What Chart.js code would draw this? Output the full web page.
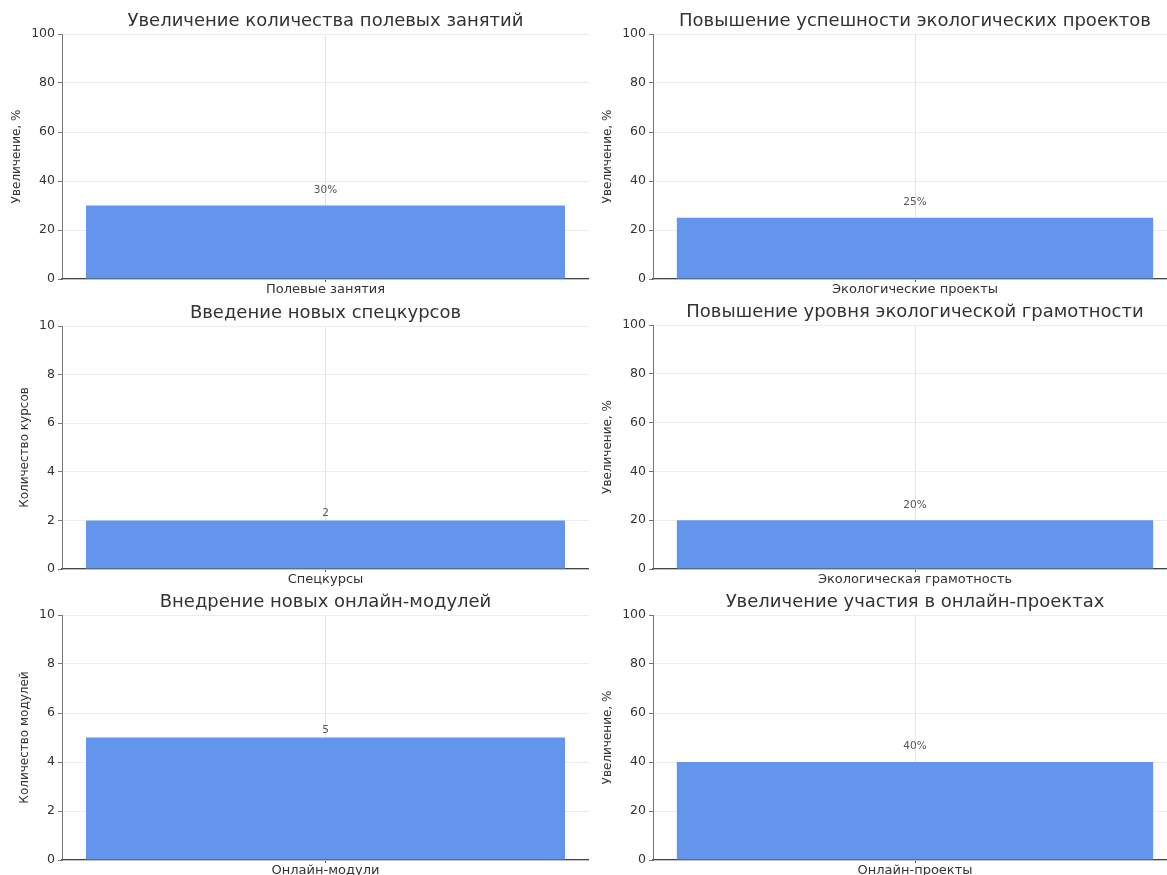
<!DOCTYPE html>
<html lang="ru">
<head>
<meta charset="utf-8">
<title>Результаты</title>
<script src="https://cdn.jsdelivr.net/npm/chart.js@4.4.1/dist/chart.umd.min.js"></script>
<style>
  html, body { margin: 0; padding: 0; background: #fff; overflow: hidden; }
  #board { position: relative; width: 1167px; height: 875px; overflow: hidden; }
  .panel { position: absolute; }
</style>
</head>
<body>
<div id="board"></div>
<script>
/* six single-bar panels, 3 rows x 2 cols */
const titles = [
    'Увеличение количества полевых занятий',
    'Повышение успешности экологических проектов',
    'Введение новых спецкурсов',
    'Повышение уровня экологической грамотности',
    'Внедрение новых онлайн-модулей',
    'Увеличение участия в онлайн-проектах',
];
const categories = ['Полевые занятия', 'Экологические проекты', 'Спецкурсы', 'Экологическая грамотность', 'Онлайн-модули', 'Онлайн-проекты'];
const values = [30, 25, 2, 20, 5, 40];
const valueLabels = ['30%', '25%', '2', '20%', '5', '40%'];
const yTitles = ['Увеличение, %', 'Увеличение, %', 'Количество курсов', 'Увеличение, %', 'Количество модулей', 'Увеличение, %'];
const yMax = [100, 100, 10, 100, 10, 100];
const yStep = [20, 20, 2, 20, 2, 20];

// panel frames: canvas box + plot area edges (page px)
const frames = [
    { left: 0, top: 0, width: 589, height: 300, plotTop: 34, plotBottom: 279 },
    { left: 591, top: 0, width: 586, height: 300, plotTop: 34, plotBottom: 279 },
    { left: 0, top: 290, width: 589, height: 300, plotTop: 326, plotBottom: 569 },
    { left: 591, top: 290, width: 586, height: 300, plotTop: 325, plotBottom: 569 },
    { left: 0, top: 580, width: 589, height: 295, plotTop: 615, plotBottom: 860 },
    { left: 591, top: 580, width: 586, height: 295, plotTop: 615, plotBottom: 860 },
];

const FONT = "'DejaVu Sans', sans-serif";
const TXT = '#333';
const AXIS_W = 62;

const barValueLabel = {
    id: 'barValueLabel',
    afterDatasetsDraw(chart, args, opts) {
        const { ctx } = chart;
        const meta = chart.getDatasetMeta(0);
        ctx.save();
        ctx.font = `10.5px ${FONT}`;
        ctx.fillStyle = '#555';
        ctx.textAlign = 'center';
        ctx.textBaseline = 'bottom';
        meta.data.forEach((bar, i) => {
            ctx.fillText(opts.labels[i], bar.x, bar.y - opts.gap);
        });
        ctx.restore();
    },
};

const board = document.getElementById('board');

frames.forEach((f, i) => {
    const wrap = document.createElement('div');
    wrap.className = 'panel';
    Object.assign(wrap.style, { left: f.left + 'px', top: f.top + 'px', width: f.width + 'px', height: f.height + 'px' });
    const cv = document.createElement('canvas');
    wrap.appendChild(cv);
    board.appendChild(wrap);

    const titleH = f.plotTop - f.top;
    const xAxisH = f.top + f.height - f.plotBottom;
    const isPct = yMax[i] >= 100;

    new Chart(cv, {
        type: 'bar',
        data: {
            labels: [categories[i]],
            datasets: [{
                data: [values[i]],
                backgroundColor: '#6495ED',
                borderWidth: 0,
                categoryPercentage: 1,
                barPercentage: 0.909,
            }],
        },
        plugins: [barValueLabel],
        options: {
            responsive: true,
            maintainAspectRatio: false,
            animation: false,
            layout: { padding: 0 },
            plugins: {
                legend: { display: false },
                tooltip: { enabled: false },
                title: {
                    display: true,
                    text: titles[i],
                    fullSize: false,
                    color: '#333',
                    font: { family: FONT, size: 18, weight: 'normal', lineHeight: '20px' },
                    padding: { top: titleH - 23, bottom: 3 },
                },
                barValueLabel: { labels: [valueLabels[i]], gap: isPct ? 10 : 2 },
            },
            scales: {
                x: {
                    offset: true,
                    afterFit: (s) => { s.height = xAxisH; },
                    grid: { offset: false, color: '#e4e4e4', tickLength: 3, tickColor: '#555' },
                    border: { color: '#444', width: 1.3 },
                    ticks: { color: TXT, font: { family: FONT, size: 13 }, padding: 0 },
                },
                y: {
                    min: 0,
                    max: yMax[i],
                    afterFit: (s) => { s.width = AXIS_W; },
                    grid: { color: '#ececec', tickLength: 4, tickColor: '#777' },
                    border: { color: '#777', width: 1 },
                    ticks: { stepSize: yStep[i], color: TXT, font: { family: FONT, size: 12.5 }, padding: 3 },
                    title: {
                        display: true,
                        text: yTitles[i],
                        color: TXT,
                        font: { family: FONT, size: 12 },
                        padding: { top: isPct ? 10 : 18, bottom: 0 },
                    },
                },
            },
        },
    });
});
</script>
</body>
</html>
